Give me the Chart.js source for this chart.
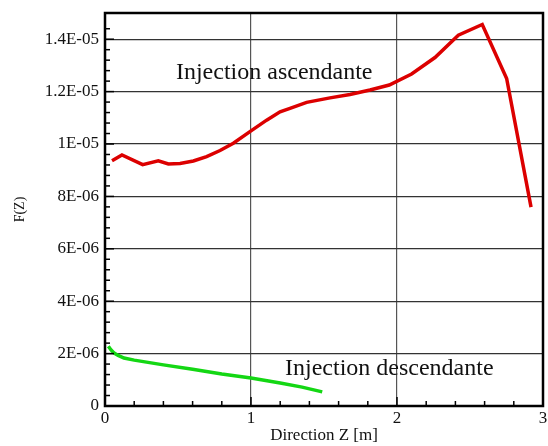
<!DOCTYPE html>
<html>
<head>
<meta charset="utf-8">
<script src="https://cdn.jsdelivr.net/npm/chart.js@4"></script>
<style>
  html, body { margin: 0; padding: 0; background: #fff; }
  #wrap { width: 548px; height: 446px; }
</style>
</head>
<body>
<div id="wrap"><canvas id="myChart" width="548" height="446"></canvas></div>
<script>
// Injection ascendante (red)
const zAsc = [0.048, 0.116, 0.258, 0.365, 0.434, 0.514, 0.605, 0.696, 0.788, 0.879, 1.0, 1.107, 1.199, 1.267, 1.381, 1.541, 1.678, 1.815, 1.947, 2.1, 2.26, 2.42, 2.584, 2.751, 2.918]
const fAsc = [9.36e-6, 9.58e-6, 9.21e-6, 9.36e-6, 9.24e-6, 9.26e-6, 9.35e-6, 9.52e-6, 9.75e-6, 10.03e-6, 10.5e-6, 10.91e-6, 11.23e-6, 11.36e-6, 11.59e-6, 11.76e-6, 11.89e-6, 12.06e-6, 12.25e-6, 12.67e-6, 13.3e-6, 14.15e-6, 14.56e-6, 12.5e-6, 7.59e-6]

// Injection descendante (green)
const zDesc = [0.023, 0.04, 0.06, 0.09, 0.13, 0.2, 0.4, 0.6, 0.8, 1.0, 1.2, 1.35, 1.488]
const fDesc = [2.28e-6, 2.15e-6, 2.03e-6, 1.93e-6, 1.83e-6, 1.75e-6, 1.57e-6, 1.40e-6, 1.22e-6, 1.07e-6, 0.88e-6, 0.72e-6, 0.54e-6]

// axis ticks
const xMajor = 1
const xMinor = 0.2
const yMajor = 2e-6
const yMinor = 0.4e-6

const serif = '"Liberation Serif", "DejaVu Serif", serif'

const toPoints = (xs, ys) => xs.map((x, i) => ({x: x, y: ys[i]}))
const isMajor = (v, step) => Math.abs(v / step - Math.round(v / step)) < 1e-6

function sciLabel(v) {
    if (Math.abs(v) < 1e-12) return '0'
    let e = Math.floor(Math.log10(v) + 1e-9)
    let m = Math.round(v / Math.pow(10, e) * 10) / 10
    if (m >= 10) { m = m / 10; e += 1 }
    const sign = e < 0 ? '-' : '+'
    const ee = String(Math.abs(e)).padStart(2, '0')
    return String(m) + 'E' + sign + ee
}

// inward tick marks, frame and the two curve labels
const framePlugin = {
    id: 'frame',
    afterDraw(chart) {
        const c = chart.ctx
        const a = chart.chartArea
        const xs = chart.scales.x
        const ys = chart.scales.y
        c.save()
        c.strokeStyle = '#000'
        c.lineWidth = 1.5
        xs.ticks.forEach(t => {
            const px = xs.getPixelForValue(t.value)
            const len = isMajor(t.value, xMajor) ? 9 : 5
            c.beginPath()
            c.moveTo(px, a.bottom)
            c.lineTo(px, a.bottom - len)
            c.stroke()
        })
        ys.ticks.forEach(t => {
            const py = ys.getPixelForValue(t.value)
            const len = isMajor(t.value, yMajor) ? 9 : 5
            c.beginPath()
            c.moveTo(a.left, py)
            c.lineTo(a.left + len, py)
            c.stroke()
        })
        c.lineWidth = 2.5
        c.strokeRect(a.left, a.top, a.right - a.left, a.bottom - a.top)

        c.fillStyle = '#111'
        c.font = '24px ' + serif
        c.textAlign = 'left'
        c.textBaseline = 'alphabetic'
        c.fillText('Injection ascendante', xs.getPixelForValue(0.486), ys.getPixelForValue(12.48e-6))
        c.fillText('Injection descendante', xs.getPixelForValue(1.233), ys.getPixelForValue(1.2e-6))
        c.restore()
    }
}

const ctx = document.getElementById('myChart').getContext('2d')
const chart = new Chart(ctx, {
    type: 'scatter',
    data: {
        datasets: [{
            label: 'Injection ascendante',
            data: toPoints(zAsc, fAsc),
            showLine: true,
            borderColor: 'rgb(220, 0, 0)',
            borderWidth: 3.5,
            pointRadius: 0,
            tension: 0
        }, {
            label: 'Injection descendante',
            data: toPoints(zDesc, fDesc),
            showLine: true,
            borderColor: 'rgb(20, 215, 20)',
            borderWidth: 3.5,
            pointRadius: 0,
            tension: 0
        }]
    },
    options: {
        responsive: false,
        animation: false,
        layout: { padding: { left: 0, right: 5, top: 13, bottom: 0 } },
        plugins: {
            legend: { display: false },
            tooltip: { enabled: false }
        },
        scales: {
            x: {
                type: 'linear',
                min: 0,
                max: 3,
                afterFit: s => { s.height = 40; s.paddingLeft = 0; s.paddingRight = 0 },
                ticks: {
                    stepSize: xMinor,
                    autoSkip: false,
                    maxRotation: 0,
                    padding: 2,
                    color: '#111',
                    font: { family: serif, size: 17 },
                    callback: v => isMajor(v, xMajor) ? String(Math.round(v)) : ''
                },
                grid: {
                    drawTicks: false,
                    lineWidth: 1.2,
                    color: c => isMajor(c.tick.value, xMajor) ? '#555' : 'rgba(0,0,0,0)'
                },
                border: { display: false },
                title: {
                    display: true,
                    text: 'Direction Z [m]',
                    color: '#111',
                    font: { family: serif, size: 17 },
                    padding: { top: 0, bottom: 0 }
                }
            },
            y: {
                type: 'linear',
                min: 0,
                max: 1.5e-5,
                afterFit: s => { s.width = 105; s.paddingTop = 0; s.paddingBottom = 0 },
                ticks: {
                    stepSize: yMinor,
                    autoSkip: false,
                    padding: 6,
                    color: '#111',
                    font: { family: serif, size: 17 },
                    callback: v => isMajor(v, yMajor) ? sciLabel(v) : ''
                },
                grid: {
                    drawTicks: false,
                    lineWidth: 1.2,
                    color: c => isMajor(c.tick.value, yMajor) ? '#333' : 'rgba(0,0,0,0)'
                },
                border: { display: false },
                title: {
                    display: true,
                    text: 'F(Z)',
                    color: '#111',
                    font: { family: serif, size: 14 },
                    padding: { top: 12, bottom: 0 }
                }
            }
        }
    },
    plugins: [framePlugin]
})
</script>
</body>
</html>
